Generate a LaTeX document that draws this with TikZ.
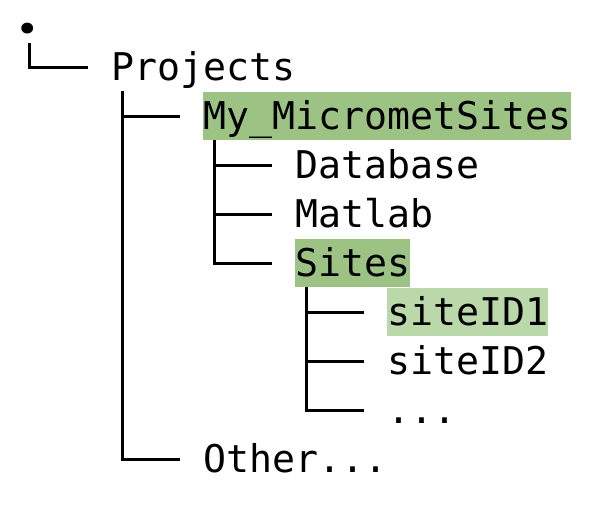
\documentclass[tikz,border=0pt]{standalone}
\usepackage{fontspec}
\setmonofont{DejaVu Sans Mono}
\newfontfamily\dotfont{Poppins}
\definecolor{hldark}{HTML}{9DC384}
\definecolor{hllight}{HTML}{BAD8A9}
\tikzset{
  entry/.style={anchor=north west, inner sep=0pt, text height=37pt, text depth=11pt,
    font=\ttfamily\fontsize{38.2}{46}\selectfont},
  branch/.style={line width=3.4pt, black}
}
\newcommand{\cx}[1]{19+23*#1}
\newcommand{\ry}[1]{43+49*#1}
\begin{document}
\begin{tikzpicture}[x=1pt,y=-1pt]
\useasboundingbox (0,0) rectangle (602,514);
\node[entry, anchor=base, text height=9pt, text depth=0pt, font=\dotfont\bfseries\fontsize{58}{60}\selectfont] (dot) at (27.5,33.5) {.};
\node[entry] (proj)  at ({\cx{4}},{\ry{0}}) {Projects};
\node[entry, fill=hldark] (my) at ({\cx{8}},{\ry{1}}) {My\_MicrometSites};
\node[entry] (db)    at ({\cx{12}},{\ry{2}}) {Database};
\node[entry] (mat)   at ({\cx{12}},{\ry{3}}) {Matlab};
\node[entry, fill=hldark] (sites) at ({\cx{12}},{\ry{4}}) {Sites};
\node[entry, fill=hllight] (s1) at ({\cx{16}},{\ry{5}}) {siteID1};
\node[entry] (s2)    at ({\cx{16}},{\ry{6}}) {siteID2};
\node[entry] (more)  at ({\cx{16}},{\ry{7}}) {...};
\node[entry] (other) at ({\cx{8}},{\ry{8}}) {Other...};
\draw[branch] ([xshift=2pt,yshift=-9.5pt]dot.base) |- ([xshift=-23pt]proj.west);
\foreach \p/\c in {proj/my, proj/other, my/db, my/mat, my/sites, sites/s1, sites/s2, sites/more}
  \draw[branch] ([xshift=11.5pt]\p.south west) |- ([xshift=-23pt]\c.west);
\end{tikzpicture}
\end{document}
